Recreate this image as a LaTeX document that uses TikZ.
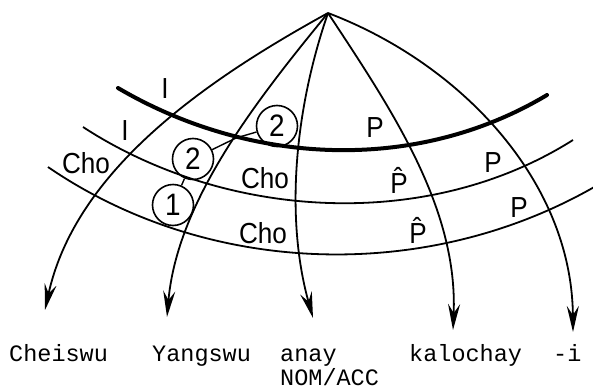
\documentclass[tikz,border=0pt]{standalone}
\usepackage{fontspec}
\setmainfont{Liberation Sans}
\newfontfamily\labf[FakeStretch=0.9]{Liberation Sans}
\newfontfamily\monof{Liberation Mono}
\usetikzlibrary{arrows.meta}
\begin{document}
\begin{tikzpicture}[x=1pt,y=-1pt,
  curve/.style={line width=1.8pt},
  thickarc/.style={line width=4pt, line cap=round},
  arr/.style={line width=1.8pt, -{Stealth[length=26pt,width=12pt,inset=9pt]}},
  lab/.style={font=\labf\fontsize{29}{31}\selectfont, inner sep=0pt, anchor=base},
  num/.style={circle, draw, line width=1.6pt, minimum size=41pt, inner sep=0pt, font=\labf\fontsize{31}{33}\selectfont},
  word/.style={font=\monof\fontsize{23.5}{26}\selectfont, inner sep=0pt, anchor=base west}]
\useasboundingbox (0,0) rectangle (593,388);
% end points
\coordinate (apex) at (328,13);
\coordinate (e1) at (45,310);
\coordinate (e2) at (167,317);
\coordinate (e3) at (313,318);
\coordinate (e4) at (453,330);
\coordinate (e5) at (573,332);
% arcs
\coordinate (a1l) at (118,88);  \coordinate (a1r) at (547,95);
\coordinate (a2l) at (83,127);  \coordinate (a2r) at (573,140);
\coordinate (a3l) at (48,167);  \coordinate (a3r) at (596,186);
\draw[thickarc] (a1l) .. controls (249,165) and (415,174) .. (a1r);
\draw[curve] (a2l) .. controls (224,219) and (426,233) .. (a2r);
\draw[curve] (a3l) .. controls (207,276) and (426,284) .. (a3r);
% arrows
\draw[arr] (apex) .. controls (210,78) and (76,168) .. (e1);
\draw[arr] (apex) .. controls (255,102) and (177,202) .. (e2);
\draw[arr] (apex) .. controls (294.5,110) and (285,218) .. (e3);
\draw[arr] (apex) .. controls (392,110) and (458,208) .. (e4);
\draw[arr] (apex) .. controls (462,64) and (572,182) .. (e5);
% circled numbers
\coordinate (ix) at (236,138);
\node[num] (c2u) at (277,126) {2};
\node[num] (c2l) at (193,159) {2};
\node[num] (c1) at (173,205) {1};
\draw[line width=1.4pt] (c2u) -- (ix);
\draw[line width=1.4pt] (c2l) -- (ix);
\draw[line width=1.4pt] (c2l) -- (c1);
% labels
\node[lab] (l1) at (165,98) {I};
\node[lab] (l2) at (125,140) {I};
\node[lab] (cho1) at (86,173) {Cho};
\node[lab] (cho2) at (265,188) {Cho};
\node[lab] (cho3) at (263,243) {Cho};
\node[lab] (p1) at (375,137) {P};
\node[lab] (p2) at (399,193) {\^{P}};
\node[lab] (p3) at (493,172) {P};
\node[lab] (p4) at (418,243) {\^{P}};
\node[lab] (p5) at (519,217) {P};
% words
\node[word] (w1) at (9,361) {Cheiswu};
\node[word] (w2) at (152,361) {Yangswu};
\node[word] (w3) at (280,361) {anay};
\node[word] (w3b) at (280,385) {NOM/ACC};
\node[word] (w4) at (409,361) {kalochay};
\node[word] (w5) at (553,361) {-i};
\end{tikzpicture}
\end{document}
